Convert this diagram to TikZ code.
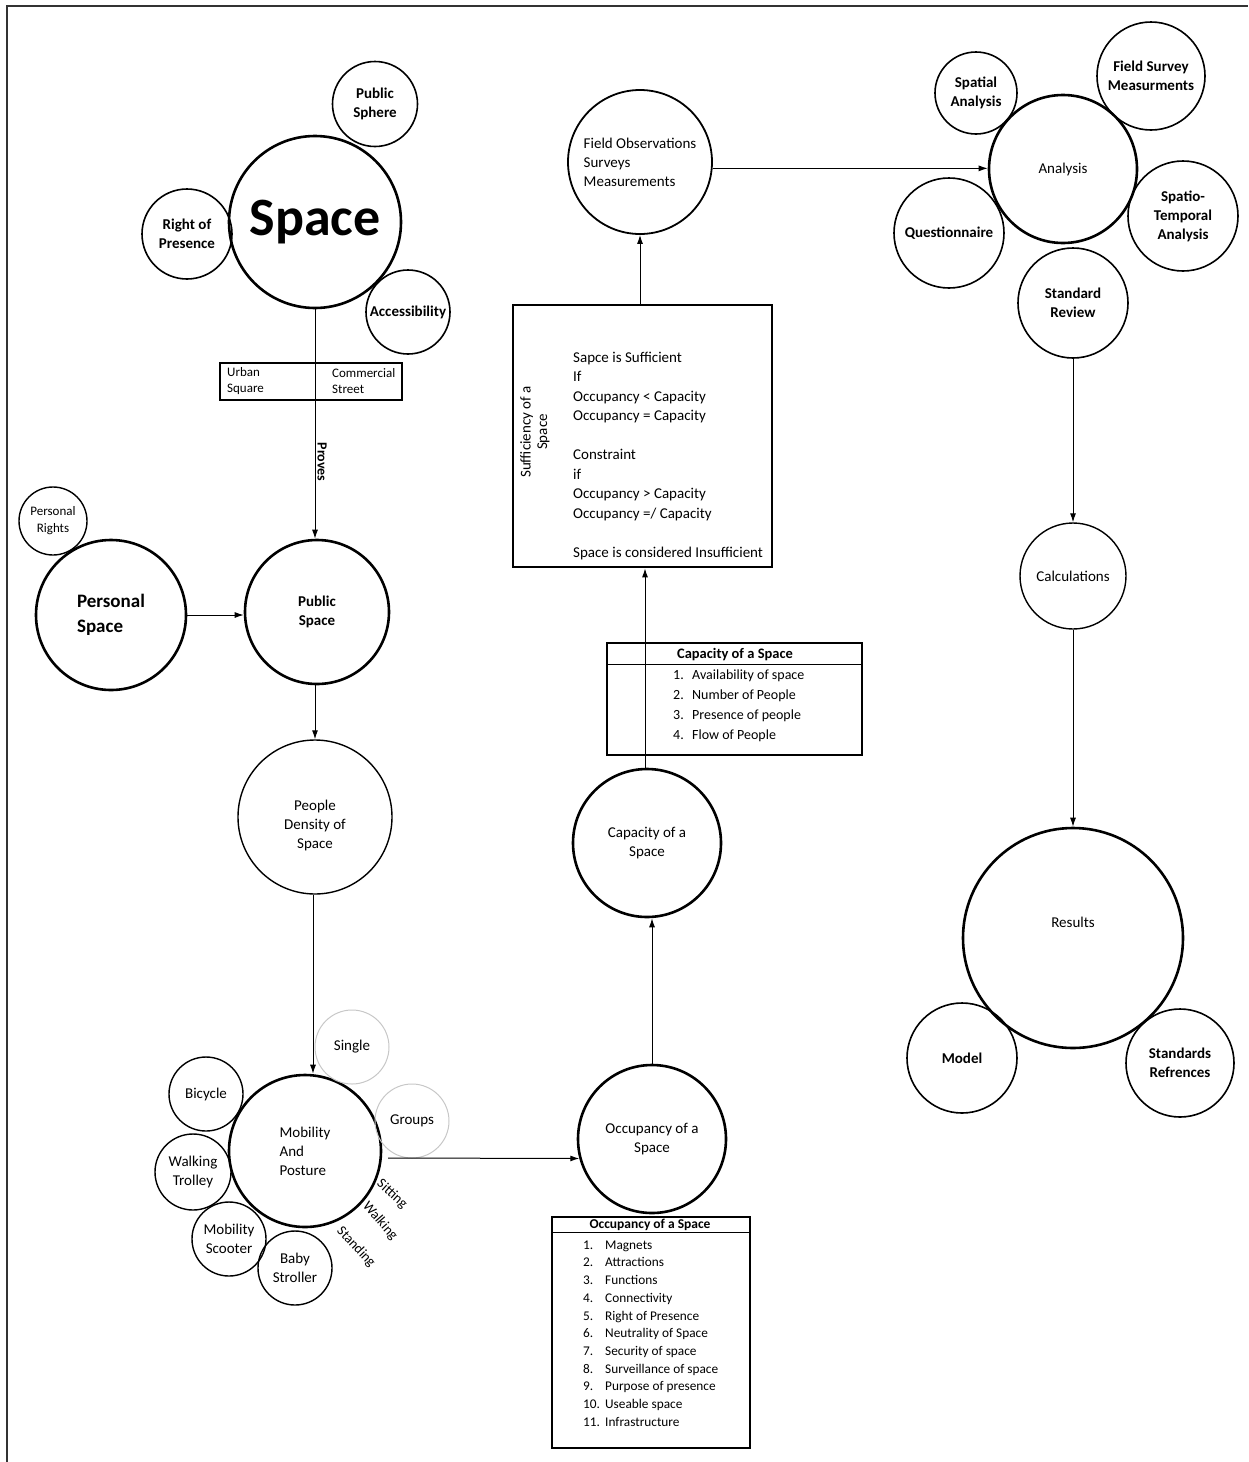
\documentclass[tikz,border=0pt]{standalone}
\usepackage{fontspec}
\setmainfont{Carlito}
\usetikzlibrary{arrows.meta}
\newcommand\fsz[2]{\fontsize{#1}{#2}\selectfont}
\begin{document}
\begin{tikzpicture}[x=1pt,y=-1pt,
  circ/.style={draw, circle, inner sep=0pt, line width=1.6pt, align=center, font=\fsz{15}{19}},
  thk/.style={line width=2.6pt},
  bld/.style={font=\fsz{15}{19}\bfseries},
  gry/.style={draw=black!22, line width=1pt},
  arr/.style={-{Latex[length=9pt,width=6pt]}, line width=1pt},
  box/.style={draw, rectangle, inner sep=0pt},
  txt/.style={inner sep=0pt, align=left, font=\fsz{15}{19.5}},
  rlab/.style={font=\fsz{14}{16}, inner sep=0pt},
]
\useasboundingbox (0,0) rectangle (1248,1462);
\draw[line width=2.5pt, black!80] (7,1462) -- (7,6) -- (1248,6);

% --- Space cluster
\node[circ, thk, minimum size=172pt, font=\fsz{54}{60}\bfseries] (space) at (315,222) {Space};
\node[circ, bld, minimum size=85pt] (sphere) at (375,104) {Public\\Sphere};
\node[circ, bld, minimum size=90pt] (rop) at (187,234) {Right of\\Presence};
\node[circ, bld, minimum size=84pt] (access) at (408,312) {Accessibility};

\node[box, line width=2.2pt, minimum width=182pt, minimum height=37pt] (sites) at (311,381.5) {};
\node[txt, font=\fsz{13}{16}, anchor=west] (urban) at (227,381) {Urban\\Square};
\node[txt, font=\fsz{13}{16}, anchor=west] (comm) at (332,381) {Commercial\\Street};

% --- Personal / Public
\node[circ, thk, minimum size=144pt, bld] (pubsp) at (317,612) {Public\\Space};
\node[circ, thk, minimum size=150pt, font=\fsz{19}{25}\bfseries, align=left] (pers) at (111,615) {Personal\\Space};
\node[circ, minimum size=68pt, font=\fsz{13}{17}, line width=1.4pt] (prights) at (53,521) {Personal\\Rights};

\draw[arr] (space.south) -- (space.south |- pubsp.north);
\node[rotate=-90, font=\fsz{14}{16}\bfseries, inner sep=0pt] (proves) at (322,462) {Proves};
\draw[arr] (pers.east) -- (pers.east -| pubsp.west);

% --- Density / Mobility
\node[circ, minimum size=154pt, line width=1.4pt,
      label={[font=\fsz{15}{19}, align=center, yshift=-8pt]center:People\\Density of\\Space}] (dens) at (315,817) {};
\draw[arr] (pubsp.south -| dens.north) -- (dens.north);

\node[circ, thk, minimum size=152pt, align=left] (mob) at (305,1151) {Mobility\\And\\Posture};
\draw[arr] ([xshift=-2pt]dens.south) -- ([xshift=-2pt]dens.south |- mob.north);

\node[circ, gry, minimum size=74pt] (single) at (352,1047) {Single};
\node[circ, gry, minimum size=74pt] (groups) at (412,1121) {Groups};
\node[circ, line width=1.4pt, minimum size=74pt] (bicycle) at (206,1094) {Bicycle};
\node[circ, line width=1.4pt, minimum size=76pt] (trolley) at (193,1172) {Walking\\Trolley};
\node[circ, line width=1.4pt, minimum size=74pt] (scooter) at (229,1239) {Mobility\\Scooter};
\node[circ, line width=1.4pt, minimum size=74pt] (stroller) at (295,1268) {Baby\\Stroller};

\node[rlab, rotate=-42] (sit) at (392,1194) {Sitting};
\node[rlab, rotate=-49] (walk) at (380,1221) {Walking};
\node[rlab, rotate=-47] (stand) at (356,1247) {Standing};

% --- Occupancy
\node[circ, thk, minimum size=148pt] (occ) at (652,1139) {Occupancy of a\\Space};
\coordinate (mobout) at (388,1158);
\draw[arr] (mobout) -- (occ.195);

\node[box, line width=1.2pt, minimum width=198pt, minimum height=231pt] (occbox) at (651,1332.5) {};
\draw[line width=1.2pt] ([yshift=-16pt]occbox.north west) -- ([yshift=-16pt]occbox.north east);
\node[font=\fsz{13.5}{16}\bfseries, inner sep=0pt] (occhead) at (650,1225) {Occupancy of a Space};
\node[txt, anchor=west, font=\fsz{13.3}{17.7}] (occlist) at (583,1333.5) {%
\makebox[22pt][l]{1.}Magnets\\
\makebox[22pt][l]{2.}Attractions\\
\makebox[22pt][l]{3.}Functions\\
\makebox[22pt][l]{4.}Connectivity\\
\makebox[22pt][l]{5.}Right of Presence\\
\makebox[22pt][l]{6.}Neutrality of Space\\
\makebox[22pt][l]{7.}Security of space\\
\makebox[22pt][l]{8.}Surveillance of space\\
\makebox[22pt][l]{9.}Purpose of presence\\
\makebox[22pt][l]{10.}Useable space\\
\makebox[22pt][l]{11.}Infrastructure};

% --- Capacity
\node[circ, thk, minimum size=148pt] (cap) at (647,843) {Capacity of a\\Space};
\draw[arr] (occ.north) -- (occ.north |- cap.south);

\node[box, line width=1.2pt, minimum width=255pt, minimum height=112pt] (capbox) at (734.5,699) {};
\draw[line width=1.2pt] ([yshift=-22pt]capbox.north west) -- ([yshift=-22pt]capbox.north east);
\node[font=\fsz{14.5}{17}\bfseries, inner sep=0pt] (caphead) at (735,655) {Capacity of a Space};
\node[txt, anchor=west, font=\fsz{14}{20}] (caplist) at (673,706) {%
\makebox[19pt][l]{1.}Availability of space\\
\makebox[19pt][l]{2.}Number of People\\
\makebox[19pt][l]{3.}Presence of people\\
\makebox[19pt][l]{4.}Flow of People};

% --- Sufficiency
\node[box, line width=2.8pt, minimum width=259pt, minimum height=262pt] (suff) at (642.5,436) {};
\draw[arr] ([xshift=-2pt]cap.north) -- ([xshift=-2pt]cap.north |- suff.south);
\node[txt, anchor=west] (sufftext) at (573,456) {Sapce is Sufficient\\If\\Occupancy < Capacity\\Occupancy = Capacity\\[19.5pt]Constraint\\if\\Occupancy > Capacity\\Occupancy =/ Capacity\\[19.5pt]Space is considered Insufficient};
\node[rotate=90, align=center, font=\fsz{15}{16.5}, inner sep=0pt] (sufflabel) at (535,432) {Sufficiency of a\\Space};

% --- Field observations
\node[circ, minimum size=144pt, align=left, line width=1.8pt] (fobs) at (640,162) {Field Observations\\Surveys\\Measurements};
\draw[arr] (suff.north -| fobs.south) -- (fobs.south);

% --- Analysis cluster
\node[circ, thk, minimum size=148pt] (anal) at (1063,169) {Analysis};
\draw[arr] (fobs.-5) -- (fobs.-5 -| anal.west);
\node[circ, bld, minimum size=82pt] (spatial) at (976,93) {Spatial\\Analysis};
\node[circ, bld, minimum size=108pt] (fsurvey) at (1151,76) {Field Survey\\Measurments};
\node[circ, bld, minimum size=110pt] (quest) at (949,233) {Questionnaire};
\node[circ, bld, minimum size=110pt] (spatemp) at (1183,216) {Spatio-\\Temporal\\Analysis};
\node[circ, bld, minimum size=110pt] (stdrev) at (1073,303) {Standard\\Review};

\node[circ, minimum size=106pt, line width=1.4pt] (calc) at (1073,576) {Calculations};
\draw[arr] (stdrev.south) -- (calc.north);

\node[circ, thk, minimum size=220pt, label={[font=\fsz{15}{19}, yshift=16pt]center:Results}] (results) at (1073,938) {};
\draw[arr] (calc.south) -- (results.north);
\node[circ, bld, minimum size=110pt] (model) at (962,1058) {Model};
\node[circ, bld, minimum size=108pt] (stdref) at (1180,1063) {Standards\\Refrences};
\end{tikzpicture}
\end{document}
